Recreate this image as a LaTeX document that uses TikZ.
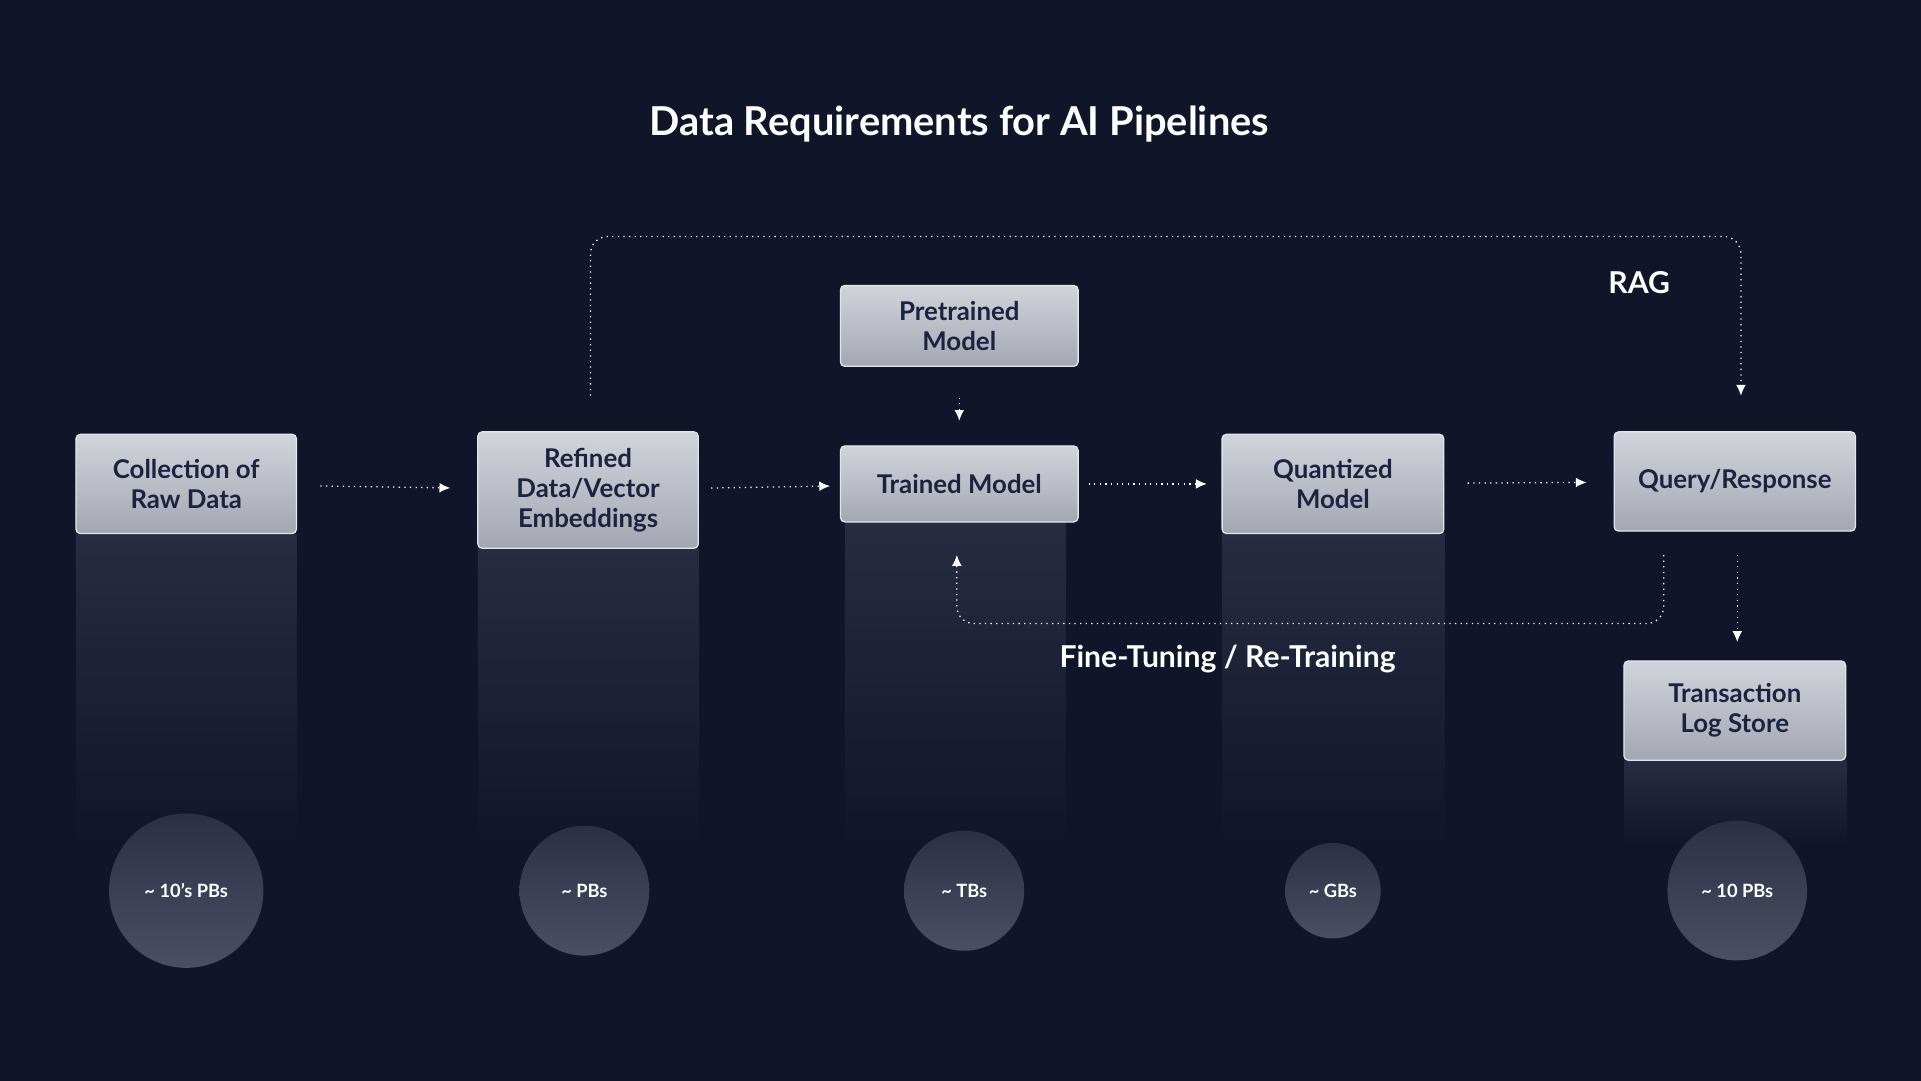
\documentclass[tikz,border=0pt]{standalone}
\usepackage{fontspec}
\setmainfont{Lato}
\usetikzlibrary{positioning,calc,arrows.meta}
\definecolor{bgnavy}{HTML}{10152A}
\definecolor{boxtext}{HTML}{1C2340}
\definecolor{boxlight}{HTML}{D2D4DB}
\definecolor{boxdark}{HTML}{A4A7B3}
\definecolor{colshade}{HTML}{272C42}
\definecolor{ballhi}{HTML}{4A4F64}
\definecolor{balllo}{HTML}{2B3046}
\tikzset{
  stage/.style={rectangle, rounded corners=2pt, top color=boxlight, bottom color=boxdark,
    draw=boxlight!60!white, line width=0.6pt, text=boxtext, align=center,
    font=\fontsize{12}{14}\selectfont\bfseries, inner sep=0pt},
  size/.style={circle, top color=balllo, bottom color=ballhi, text=white,
    font=\fontsize{8.5}{10}\selectfont\bfseries, inner sep=0pt},
  flow/.style={draw=white, dotted, line width=0.6pt, -{Latex[length=5pt,width=4.5pt]}},
  caption/.style={text=white, font=\fontsize{14}{16}\selectfont\bfseries}
}
\begin{document}
\begin{tikzpicture}[x=0.02cm,y=-0.02cm]
  \fill[bgnavy] (0,0) rectangle (1568,882);
  \useasboundingbox (0,0) rectangle (1568,882);

  % title
  \node[text=white, font=\fontsize{18.5}{22}\selectfont\bfseries] (title) at (783,101) {Data Requirements for AI Pipelines};

  % fading columns under the stages
  \foreach \xl/\xr/\yt in {62/242/436, 390/570/448, 690/870/426, 998/1179/435, 1326/1507/621}
    \shade[top color=colshade, bottom color=bgnavy] (\xl,\yt) rectangle (\xr,690);

  % stages
  \node[stage, minimum width=3.6cm, minimum height=1.62cm] (raw) at (152,395) {Collection of\\Raw Data};
  \node[stage, minimum width=3.6cm, minimum height=1.9cm] (refined) at (480,400) {Refined\\Data/Vector\\Embeddings};
  \node[stage, minimum width=3.88cm, minimum height=1.32cm] (pretrained) at (783,266) {Pretrained\\Model};
  \node[stage, minimum width=3.88cm, minimum height=1.24cm] (trained) at (783,395) {Trained Model};
  \node[stage, minimum width=3.62cm, minimum height=1.62cm] (quantized) at (1088,395) {Quantized\\Model};
  \node[stage, minimum width=3.94cm, minimum height=1.62cm] (query) at (1416,393) {Query/Response};
  \node[stage, minimum width=3.62cm, minimum height=1.62cm] (logstore) at (1416,580) {Transaction\\Log Store};

  % data sizes
  \node[size, minimum size=2.52cm] (s1) at (152,727) {\textasciitilde{} 10’s PBs};
  \node[size, minimum size=2.12cm] (s2) at (477,727) {\textasciitilde{} PBs};
  \node[size, minimum size=1.96cm] (s3) at (787,727) {\textasciitilde{} TBs};
  \node[size, minimum size=1.56cm] (s4) at (1088,727) {\textasciitilde{} GBs};
  \node[size, minimum size=2.28cm] (s5) at (1418,727) {\textasciitilde{} 10 PBs};

  % main flow
  \draw[flow, shorten <=0.38cm, shorten >=0.44cm] (raw) -- (refined);
  \draw[flow, shorten <=0.2cm, shorten >=0.16cm] (refined) -- (trained);
  \draw[flow, shorten <=0.16cm, shorten >=0.24cm] (trained) -- (quantized);
  \draw[flow, shorten <=0.38cm, shorten >=0.44cm] (quantized) -- (query);
  \draw[flow, shorten <=0.5cm, shorten >=0.4cm] (pretrained) -- (trained);
  \draw[flow, shorten <=0.38cm, shorten >=0.3cm] (query.south -| 1418,0) -- (logstore.north -| 1418,0);

  % RAG loop
  \coordinate (ragstart) at (482,323);
  \coordinate (ragend) at (1421,323);
  \draw[flow, rounded corners=8pt] (ragstart) -- (482,193) -- (1421,193) -- (ragend);
  \node[caption] (rag) at (1338,231) {RAG};

  % fine-tuning loop
  \coordinate (ftstart) at (1358,453);
  \coordinate (ftend) at (781,453);
  \draw[flow, rounded corners=8pt] (ftstart) -- (1358,509) -- (781,509) -- (ftend);
  \node[caption] (finetune) at (1002,538) {Fine-Tuning / Re-Training};
\end{tikzpicture}
\end{document}
